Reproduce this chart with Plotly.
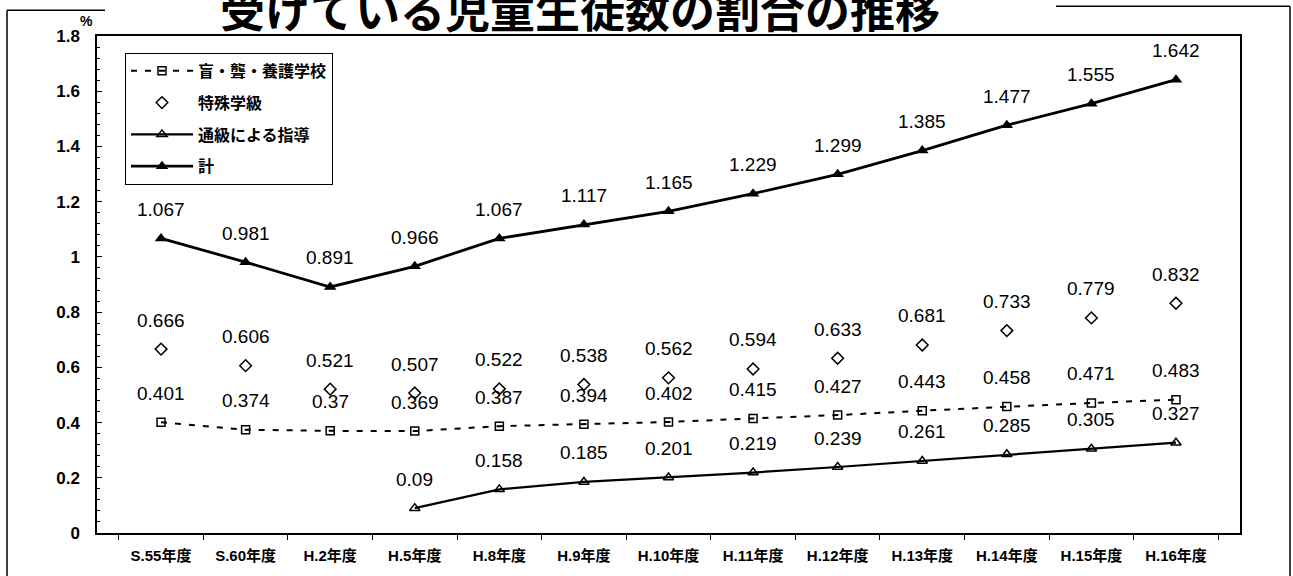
import plotly.graph_objects as go

categories = ["S.55年度", "S.60年度", "H.2年度", "H.5年度", "H.8年度", "H.9年度", "H.10年度",
              "H.11年度", "H.12年度", "H.13年度", "H.14年度", "H.15年度", "H.16年度"]
moro = [0.401, 0.374, 0.37, 0.369, 0.387, 0.394, 0.402, 0.415, 0.427, 0.443, 0.458, 0.471, 0.483]
tokushu = [0.666, 0.606, 0.521, 0.507, 0.522, 0.538, 0.562, 0.594, 0.633, 0.681, 0.733, 0.779, 0.832]
tsukyu = [None, None, None, 0.09, 0.158, 0.185, 0.201, 0.219, 0.239, 0.261, 0.285, 0.305, 0.327]
total = [1.067, 0.981, 0.891, 0.966, 1.067, 1.117, 1.165, 1.229, 1.299, 1.385, 1.477, 1.555, 1.642]
series_names = ["盲・聾・養護学校", "特殊学級", "通級による指導", "計"]
y_ticks = [0, 0.2, 0.4, 0.6, 0.8, 1, 1.2, 1.4, 1.6, 1.8]
title_text = "受けている児童生徒数の割合の推移"

FONT = "Liberation Sans, Arial, Noto Sans CJK JP"
CJK = "Noto Sans CJK JP, Liberation Sans"

fig = go.Figure()
fig.add_trace(go.Scatter(
    x=categories, y=moro, name=series_names[0], mode="lines+markers",
    line=dict(color="black", width=2, dash="6px,8px"),
    marker=dict(symbol="square-open", size=8, color="black", line=dict(width=1.5)),
    legendgroup="a"))
fig.add_trace(go.Scatter(
    x=categories, y=tokushu, name=series_names[1], mode="markers",
    marker=dict(symbol="diamond-open", size=9, color="black", line=dict(width=1.5)),
    legendgroup="b"))
fig.add_trace(go.Scatter(
    x=categories, y=tsukyu, name=series_names[2], mode="lines+markers",
    line=dict(color="black", width=2.2),
    marker=dict(symbol="triangle-up-open", size=9, color="black", line=dict(width=1.5)),
    legendgroup="c"))
fig.add_trace(go.Scatter(
    x=categories, y=total, name=series_names[3], mode="lines+markers",
    line=dict(color="black", width=2.8),
    marker=dict(symbol="triangle-up", size=11, color="black"),
    legendgroup="d"))

annotations = []
for series in (moro, tokushu, tsukyu, total):
    for c, v in zip(categories, series):
        if v is None:
            continue
        annotations.append(dict(
            x=c, y=v, xref="x", yref="y", text=f"{v:g}", showarrow=False,
            yshift=29, font=dict(family=FONT, size=19, color="black")))


def px(x):
    return (x - 97) / 1143


def py(y):
    return (537 - y) / 501


annotations.append(dict(
    x=0.0, xref="paper", y=1.0, yref="paper", xanchor="right", yanchor="bottom",
    xshift=-2, yshift=5, text="<b>%</b>", showarrow=False,
    font=dict(family=FONT, size=14, color="black")))
annotations.append(dict(
    x=px(580), xref="paper", y=py(8), yref="paper", xanchor="center", yanchor="middle",
    showarrow=False, text=title_text,
    font=dict(family=CJK, size=45, color="black", weight="bold")))

shapes = [
    dict(type="line", xref="paper", yref="paper", x0=px(7), x1=px(7), y0=py(10), y1=py(590),
         line=dict(color="black", width=1.5)),
    dict(type="line", xref="paper", yref="paper", x0=px(7), x1=px(105), y0=py(10), y1=py(10),
         line=dict(color="black", width=1.5)),
    dict(type="line", xref="paper", yref="paper", x0=px(1056), x1=px(1290), y0=py(6), y1=py(6),
         line=dict(color="black", width=1.5)),
    dict(type="line", xref="paper", yref="paper", x0=px(1290), x1=px(1290), y0=py(6), y1=py(590),
         line=dict(color="black", width=1.5)),
]

fig.update_layout(
    width=1293, height=576,
    margin=dict(l=97, r=53, t=36, b=39),
    paper_bgcolor="white", plot_bgcolor="white",
    showlegend=True,
    legend=dict(
        x=px(125), y=py(53), xanchor="left", yanchor="top",
        bordercolor="black", borderwidth=1, bgcolor="white",
        font=dict(family=CJK, size=16, color="black", weight="bold"),
        traceorder="grouped", tracegroupgap=8, itemwidth=62,
    ),
    annotations=annotations,
    shapes=shapes,
)
fig.update_xaxes(
    type="category", categoryorder="array", categoryarray=categories,
    showline=True, linecolor="black", linewidth=1.5, mirror=True,
    ticks="outside", tickson="boundaries", ticklen=5, tickcolor="black",
    tickfont=dict(family=FONT, size=15, color="black", weight="bold"),
    ticklabelstandoff=8, showgrid=False, zeroline=False,
)
fig.update_yaxes(
    range=[0, 1.8], tickvals=y_ticks,
    showline=True, linecolor="black", linewidth=1.5, mirror=True,
    ticks="inside", ticklen=5, tickcolor="black",
    minor=dict(ticks="inside", ticklen=3, dtick=0.04, tickcolor="black"),
    tickfont=dict(family=FONT, size=17, color="black", weight="bold"),
    ticklabelstandoff=12, showgrid=False, zeroline=False,
)

fig.write_html("out.html")
